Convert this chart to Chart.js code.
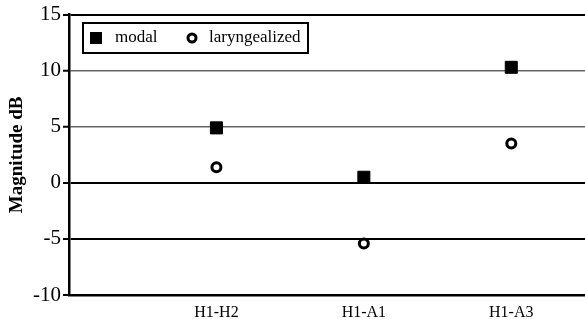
<!DOCTYPE html>
<html>
<head>
<meta charset="utf-8">
<script src="https://cdn.jsdelivr.net/npm/chart.js@4/dist/chart.umd.min.js"></script>
<style>
  html, body { margin: 0; padding: 0; background: #fff; }
  #wrap { width: 585px; height: 319px; }
</style>
</head>
<body>
<div id="wrap"><canvas id="chart"></canvas></div>
<script>
// данные
const categories = ['H1-H2', 'H1-A1', 'H1-A3'];
const modal = [4.9, 0.5, 10.3];
const laryngealized = [1.4, -5.4, 3.5];
const yTicks = [15, 10, 5, 0, -5, -10];

const serif = '"Liberation Serif", "Times New Roman", serif';

// легенда в рамке внутри области графика
const boxLegend = {
    id: 'boxLegend',
    afterDraw(chart) {
        const ctx = chart.ctx;
        const x0 = 83, y0 = 23, w = 225, h = 30;
        ctx.save();
        ctx.fillStyle = '#fff';
        ctx.fillRect(x0, y0, w, h);
        ctx.strokeStyle = '#000';
        ctx.lineWidth = 2;
        ctx.strokeRect(x0, y0, w, h);
        const cy = y0 + h / 2;
        ctx.fillStyle = '#000';
        ctx.fillRect(90, cy - 6, 12, 12);
        ctx.font = '17px ' + serif;
        ctx.textBaseline = 'middle';
        ctx.fillText(chart.data.datasets[0].label, 115, cy);
        ctx.beginPath();
        ctx.arc(192, cy, 4, 0, Math.PI * 2);
        ctx.lineWidth = 3;
        ctx.fillStyle = '#fff';
        ctx.fill();
        ctx.stroke();
        ctx.fillStyle = '#000';
        ctx.fillText(chart.data.datasets[1].label, 209, cy);
        ctx.restore();
    }
};

new Chart(document.getElementById('chart'), {
    type: 'scatter',
    data: {
        datasets: [{
            label: 'modal',
            data: modal.map((v, i) => ({ x: i + 1, y: v })),
            pointStyle: 'rect',
            pointRadius: 8.5,
            backgroundColor: '#000',
            borderColor: '#000',
            borderWidth: 1
        }, {
            label: 'laryngealized',
            data: laryngealized.map((v, i) => ({ x: i + 1, y: v })),
            pointStyle: 'circle',
            pointRadius: 4.5,
            backgroundColor: '#fff',
            borderColor: '#000',
            borderWidth: 3
        }]
    },
    options: {
        responsive: true,
        maintainAspectRatio: false,
        animation: false,
        layout: { autoPadding: false, padding: { top: 6, right: 0, bottom: 0, left: 0 } },
        plugins: {
            legend: { display: false },
            tooltip: { enabled: false }
        },
        scales: {
            x: {
                type: 'linear',
                min: 0,
                max: 3.5,
                afterBuildTicks: s => { s.ticks = categories.map((c, i) => ({ value: i + 1 })); },
                ticks: {
                    callback: v => categories[v - 1] || '',
                    color: '#000',
                    font: { family: serif, size: 16 },
                    padding: 8,
                    maxRotation: 0
                },
                grid: { display: false, drawTicks: false },
                border: { color: '#000', width: 2.5 },
                afterFit: s => { s.height = 24; s.paddingLeft = 0; s.paddingRight = 0; }
            },
            y: {
                min: -10,
                max: 15,
                afterBuildTicks: s => { s.ticks = yTicks.map(v => ({ value: v })); },
                ticks: {
                    color: '#000',
                    font: { family: serif, size: 21 },
                    padding: 2
                },
                grid: {
                    color: ctx => (ctx.tick && (ctx.tick.value === 10 || ctx.tick.value === 5)) ? '#666' : '#000',
                    lineWidth: ctx => {
                        const v = ctx.tick && ctx.tick.value;
                        if (v === -10) return 0;
                        if (v === 10 || v === 5) return 1.5;
                        return 2;
                    },
                    tickLength: 6,
                    tickColor: '#000',
                    tickWidth: 2
                },
                border: { color: '#000', width: 2.5 },
                title: {
                    display: true,
                    text: 'Magnitude dB',
                    color: '#000',
                    font: { family: serif, size: 19, weight: 'bold' },
                    padding: { top: 6, bottom: 0 }
                },
                afterFit: s => { s.width = 69; }
            }
        }
    },
    plugins: [boxLegend]
});
</script>
</body>
</html>
